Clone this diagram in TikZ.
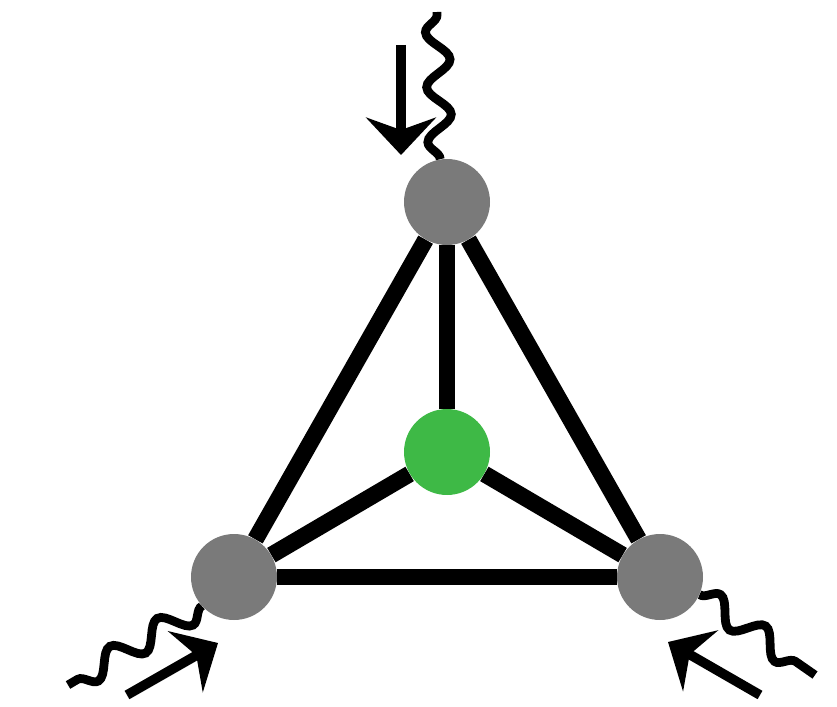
\documentclass[tikz,border=0pt]{standalone}
\usetikzlibrary{arrows.meta, decorations.pathmorphing}
\definecolor{atomgray}{RGB}{122,122,122}
\definecolor{atomgreen}{RGB}{62,185,70}

\begin{document}
\begin{tikzpicture}[x=0.02cm, y=-0.02cm,
    atom/.style={circle, fill=atomgray, minimum size=1.72cm, inner sep=0pt},
    bond/.style={line width=9.5pt, black},
    photon/.style={line width=5pt, decorate, decoration={snake, segment length=1.1cm, amplitude=0.24cm}},
    flow/.style={-{Stealth[length=0.75cm, width=1.4cm, inset=0.25cm]}, line width=5.5pt}
]
\useasboundingbox (0,0) rectangle (837,706);

% Atoms
\node[atom] (top) at (447,202) {};
\node[atom, fill=atomgreen] (mid) at (447,452) {};
\node[atom] (left) at (234,577) {};
\node[atom] (right) at (660,577) {};

% Bonds
\draw[bond] (top) -- (left);
\draw[bond] (top) -- (right);
\draw[bond] (left) -- (right);
\draw[bond] (mid) -- (top);
\draw[bond] (mid) -- (left);
\draw[bond] (mid) -- (right);

% Wavy lines
\coordinate (wtop) at (437,12);
\coordinate (wleft) at (68,685);
\coordinate (wright) at (815,675);
\draw[photon] (top.99) -- (wtop);
\draw[photon] (left.222) -- (wleft);
\draw[photon] (right.336) -- (wright);

% Arrows
\coordinate (a1) at (401,45);
\coordinate (b1) at (401,155);
\coordinate (a2) at (127,695);
\coordinate (b2) at (218,643);
\coordinate (a3) at (760,695);
\coordinate (b3) at (668,642);
\draw[flow] (a1) -- (b1);
\draw[flow] (a2) -- (b2);
\draw[flow] (a3) -- (b3);

\end{tikzpicture}
\end{document}
